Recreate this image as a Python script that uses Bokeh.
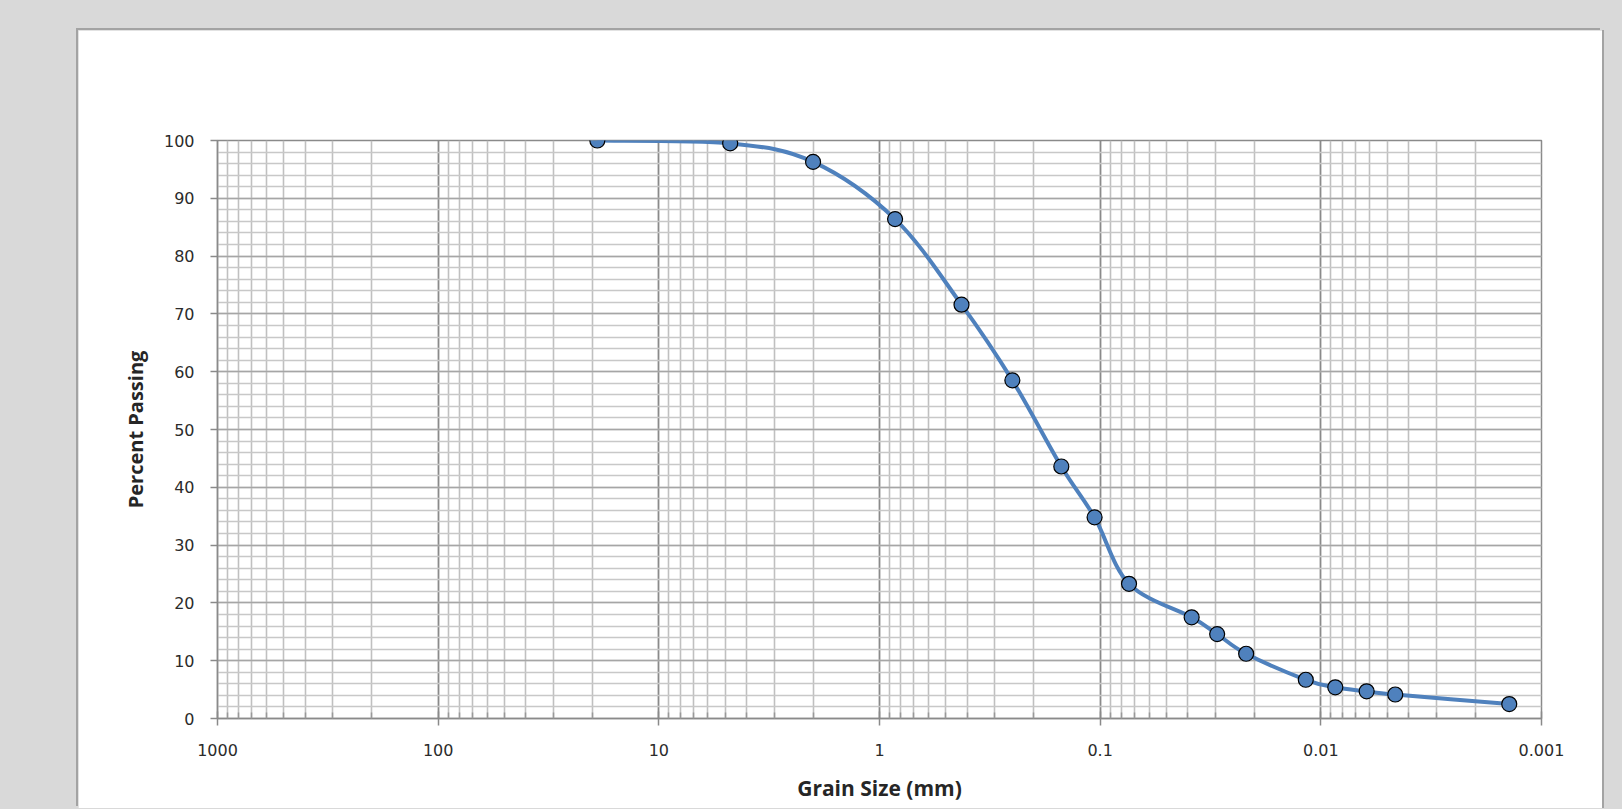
import numpy as np
from bokeh.plotting import figure
from bokeh.models import Range1d, FixedTicker, GlobalInlineStyleSheet, ColumnDataSource
from bokeh.embed import file_html
from bokeh.resources import INLINE

# ---- data ----
grain_size_mm = [19.0, 4.75, 2.0, 0.85, 0.425, 0.25, 0.15, 0.106, 0.074,
                 0.0385, 0.0295, 0.0218, 0.0117, 0.0086, 0.0062, 0.0046, 0.0014]
percent_passing = [100, 99.5, 96.3, 86.4, 71.6, 58.5, 43.6, 34.8, 23.3,
                   17.5, 14.6, 11.2, 6.7, 5.4, 4.7, 4.15, 2.5]
x_ticks = [1000, 100, 10, 1, 0.1, 0.01, 0.001]
x_tick_labels = ["1000", "100", "10", "1", "0.1", "0.01", "0.001"]
y_ticks = [0, 10, 20, 30, 40, 50, 60, 70, 80, 90, 100]
y_tick_labels = ["0", "10", "20", "30", "40", "50", "60", "70", "80", "90", "100"]

BLUE = "#4f81bd"

p = figure(width=1524, height=778, x_axis_type="log",
           x_range=Range1d(1000, 0.001), y_range=Range1d(0, 100),
           output_backend="svg", toolbar_location=None,
           min_border_left=139, min_border_right=61,
           min_border_top=110, min_border_bottom=90,
           margin=(30, 0, 0, 78))
p.stylesheets = [GlobalInlineStyleSheet(css="html,body{margin:0;padding:0;background:#d9d9d9;overflow:hidden;}")]
p.styles = {"box-shadow": "-2px -2px 0 #a3a3a3, 2px 0 0 #a3a3a3"}
p.border_fill_color = "white"
p.background_fill_color = "white"
p.outline_line_color = "#8a8a8a"
p.outline_line_width = 1.5

# minor tick positions (2..9 within each decade)
minor_x = []
for d in range(-3, 3):
    for m in range(2, 10):
        minor_x.append(m * 10.0 ** d)
minor_y = list(range(0, 101, 2))

p.xaxis.ticker = FixedTicker(ticks=x_ticks, minor_ticks=minor_x)
p.yaxis.ticker = FixedTicker(ticks=y_ticks, minor_ticks=minor_y)
p.xaxis.major_label_overrides = {t: l for t, l in zip(x_ticks, x_tick_labels)}
p.yaxis.major_label_overrides = {t: l for t, l in zip(y_ticks, y_tick_labels)}

for ax in (p.xaxis, p.yaxis):
    ax.axis_line_color = "#8a8a8a"
    ax.axis_line_width = 1.5
    ax.major_tick_line_color = "#8a8a8a"
    ax.minor_tick_line_color = "#9a9a9a"
    ax.major_tick_line_width = 1.5
    ax.minor_tick_line_width = 1.5
    ax.major_label_text_font = "DejaVu Sans"
    ax.major_label_text_font_size = "16px"
    ax.major_label_text_color = "#2b2b2b"
    ax.axis_label_text_font = "Open Sans"
    ax.axis_label_text_font_style = "bold"
    ax.axis_label_text_color = "#262626"

p.xaxis.axis_label_text_font_size = "21px"
p.yaxis.axis_label_text_font_size = "20px"

p.xaxis.major_tick_in = 7
p.xaxis.major_tick_out = 7
p.xaxis.minor_tick_in = 6
p.xaxis.minor_tick_out = 0
p.xaxis.major_label_standoff = 18
p.xaxis.axis_label = "Grain Size (mm)"
p.xaxis.axis_label_standoff = 15

p.yaxis.major_tick_in = 0
p.yaxis.major_tick_out = 7
p.yaxis.minor_tick_in = 0
p.yaxis.minor_tick_out = 0
p.yaxis.major_label_standoff = 16
p.yaxis.axis_label = "Percent Passing"
p.yaxis.axis_label_standoff = 12

p.xgrid.grid_line_color = "#8a8a8a"
p.xgrid.grid_line_width = 1.8
p.xgrid.minor_grid_line_color = "#c0c0c0"
p.xgrid.minor_grid_line_width = 1.6
p.ygrid.grid_line_color = "#a6a6a6"
p.ygrid.grid_line_width = 1.6
p.ygrid.minor_grid_line_color = "#c8c8c8"
p.ygrid.minor_grid_line_width = 1.6

# smoothed connecting line (Catmull-Rom style Bezier segments in log-x space)
lx = np.log10(np.array(grain_size_mm))
yy = np.array(percent_passing, dtype=float)
n = len(lx)
x0, y0, x1, y1, cx0, cy0, cx1, cy1 = [], [], [], [], [], [], [], []
for i in range(n - 1):
    a = max(i - 1, 0)
    b = min(i + 2, n - 1)
    x0.append(10 ** lx[i]); y0.append(yy[i])
    x1.append(10 ** lx[i + 1]); y1.append(yy[i + 1])
    cx0.append(10 ** (lx[i] + (lx[i + 1] - lx[a]) / 6)); cy0.append(yy[i] + (yy[i + 1] - yy[a]) / 6)
    cx1.append(10 ** (lx[i + 1] - (lx[b] - lx[i]) / 6)); cy1.append(yy[i + 1] - (yy[b] - yy[i]) / 6)
curve = ColumnDataSource(dict(x0=x0, y0=y0, x1=x1, y1=y1, cx0=cx0, cy0=cy0, cx1=cx1, cy1=cy1))
p.bezier(x0="x0", y0="y0", x1="x1", y1="y1", cx0="cx0", cy0="cy0", cx1="cx1", cy1="cy1",
         source=curve, line_color=BLUE, line_width=4)

pts = ColumnDataSource(dict(x=grain_size_mm, y=percent_passing))
p.scatter("x", "y", source=pts, size=15, fill_color=BLUE, line_color="black", line_width=1.2)

open("out.html", "w").write(file_html(p, INLINE))
